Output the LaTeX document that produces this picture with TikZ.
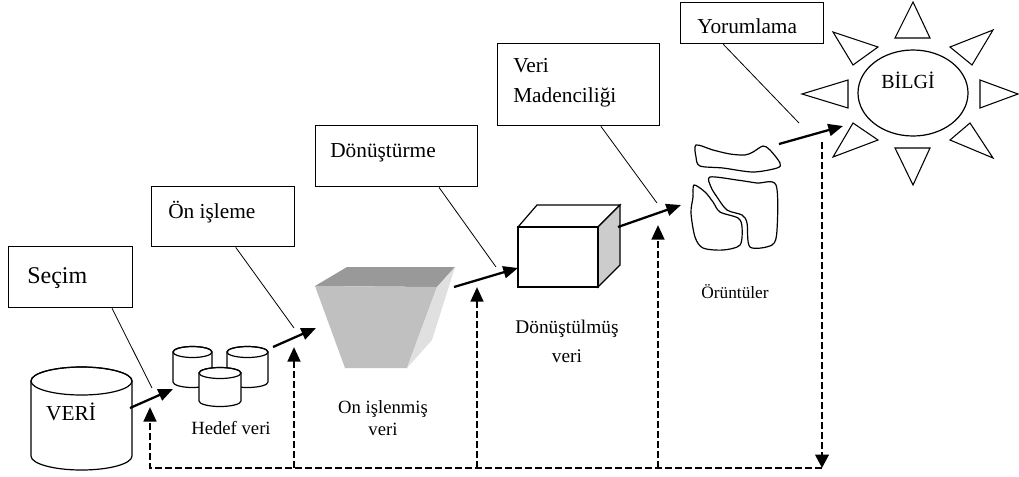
\documentclass[tikz,border=0pt]{standalone}
\usepackage{fontspec}
\setmainfont{Liberation Serif}
\usetikzlibrary{arrows.meta,calc}

\tikzset{
  labelbox/.style={draw, line width=1pt, inner sep=0pt, anchor=north west},
  boxtext/.style={anchor=base west, inner sep=0pt, font=\fontsize{16}{19}\selectfont},
  shapetext/.style={inner sep=0pt, font=\fontsize{14}{16.5}\selectfont},
  leader/.style={line width=0.6pt},
  flowarrow/.style={line width=1.7pt, -{Triangle[length=11pt,width=9pt]}},
  feedback/.style={line width=2pt, dash pattern=on 5pt off 2.5pt},
  outline/.style={line width=0.9pt}
}

\begin{document}
\begin{tikzpicture}[x=0.75pt,y=0.75pt,yscale=-1,xscale=1]
        \useasboundingbox (0,0) rectangle (1019,476);

        %Shape: Can [VERİ]
        \draw [outline, fill=white] (31,381) -- (31,456) arc[start angle=180, end angle=0, x radius=50.5, y radius=14] -- (132,381) arc[start angle=0, end angle=-180, x radius=50.5, y radius=14] -- cycle ;
        \draw [outline] (81.5,381) ellipse [x radius=50.5, y radius=14] ;
        %Shape: Can [hedef 1]
        \draw [outline, fill=white] (173,352) -- (173,382) arc[start angle=180, end angle=0, x radius=19.5, y radius=5.5] -- (212,352) arc[start angle=0, end angle=-180, x radius=19.5, y radius=5.5] -- cycle ;
        \draw [outline] (192.5,352) ellipse [x radius=19.5, y radius=5.5] ;
        %Shape: Can [hedef 2]
        \draw [outline, fill=white] (227,352) -- (227,382) arc[start angle=180, end angle=0, x radius=20.5, y radius=5.5] -- (268,352) arc[start angle=0, end angle=-180, x radius=20.5, y radius=5.5] -- cycle ;
        \draw [outline] (247.5,352) ellipse [x radius=20.5, y radius=5.5] ;
        %Shape: Can [hedef 3]
        \draw [outline, fill=white] (199,373) -- (199,401) arc[start angle=180, end angle=0, x radius=21, y radius=5.5] -- (241,373) arc[start angle=0, end angle=-180, x radius=21, y radius=5.5] -- cycle ;
        \draw [outline] (220,373) ellipse [x radius=21, y radius=5.5] ;

        %Shape: Funnel
        \fill [fill={rgb, 255:red, 153; green, 153; blue, 153 }] (347,267) -- (455,267) -- (437,287) -- (315,286) -- cycle ;
        \fill [fill={rgb, 255:red, 192; green, 192; blue, 192 }] (315,286) -- (437,287) -- (407,368) -- (345,368) -- cycle ;
        \fill [fill={rgb, 255:red, 224; green, 224; blue, 224 }] (437,287) -- (455,267) -- (432,340) -- (407,368) -- cycle ;

        %Shape: Cube
        \draw [outline, fill=white] (518,227) -- (537,205) -- (620,205) -- (598,227) -- cycle ;
        \draw [outline, fill={rgb, 255:red, 204; green, 204; blue, 204 }] (598,227) -- (620,205) -- (620,265) -- (598,287) -- cycle ;
        \draw [outline, fill=white] (518,227) rectangle (598,287) ;

        %Shape: Patterns
        \draw [outline] plot[smooth cycle, tension=0.5] coordinates {(696,145) (713,150) (730,154) (745,155) (753,152) (763,146) (770,150) (780,163) (777,168) (753,172) (723,168) (700,166) (696,157)} ;
        \draw [outline] plot[smooth cycle, tension=0.5] coordinates {(710,177) (737,180) (757,183) (776,185) (777,230) (772,245) (750,247) (747,223) (742,215) (727,210) (717,197) (711,187)} ;
        \draw [outline] plot[smooth cycle, tension=0.5] coordinates {(694,185) (705,192) (713,202) (720,212) (738,218) (742,227) (740,245) (723,250) (703,248) (695,237) (691,213) (693,197)} ;

        %Shape: Sun
        \draw [outline] (913,93) ellipse [x radius=55, y radius=43] ;
        \draw [line width=0.8pt] (913,2) -- (930,38) -- (895,38) -- cycle ;
        \draw [line width=0.8pt] (895,148) -- (930,148) -- (913,185) -- cycle ;
        \draw [line width=0.8pt] (802,94) -- (848,80) -- (848,108) -- cycle ;
        \draw [line width=0.8pt] (1018,94) -- (980,80) -- (980,108) -- cycle ;
        \draw [line width=0.8pt] (833,32) -- (878,47) -- (853,65) -- cycle ;
        \draw [line width=0.8pt] (993,30) -- (950,47) -- (972,65) -- cycle ;
        \draw [line width=0.8pt] (833,157) -- (853,123) -- (878,140) -- cycle ;
        \draw [line width=0.8pt] (993,158) -- (950,140) -- (970,123) -- cycle ;

        % Text Node
        \node [shapetext, anchor=base, font=\fontsize{16}{19}\selectfont] (veritext) at (71,420) {VERİ};
        \node [shapetext, anchor=base] (hedeftext) at (231,434) {Hedef veri};
        \node [shapetext, align=center] (huntext) at (383,418) {On işlenmiş\\veri};
        \node [shapetext, align=center, font=\fontsize{14.5}{21.75}\selectfont] (kuptext) at (567,341) {Dönüştülmüş\\veri};
        \node [shapetext, anchor=base, font=\fontsize{13}{15}\selectfont] (oruntutext) at (735,298) {Örüntüler};
        \node [shapetext, anchor=base, font=\fontsize{15}{18}\selectfont] (bilgitext) at (908,88) {BİLGİ};

        %Step boxes
        \node [labelbox, minimum width=93pt, minimum height=45.75pt] (secim) at (8,246) {};
        \node [labelbox, minimum width=107.25pt, minimum height=45pt] (onisleme) at (151,186) {};
        \node [labelbox, minimum width=121.5pt, minimum height=45.75pt] (donusturme) at (315,125) {};
        \node [labelbox, minimum width=121.5pt, minimum height=61.5pt] (madencilik) at (497,43) {};
        \node [labelbox, minimum width=107.25pt, minimum height=30.75pt] (yorumlama) at (680,2) {};
        % Text Node
        \node [boxtext, font=\fontsize{18}{21}\selectfont] (secimtext) at (27,283) {Seçim};
        \node [boxtext] (onislemetext) at (168,218) {Ön işleme};
        \node [boxtext] (donusturmetext) at (330,157) {Dönüştürme};
        \node [boxtext] (veritext2) at (513,72) {Veri};
        \node [boxtext] (madenciliktext) at (513,102) {Madenciliği};
        \node [boxtext] (yorumlamatext) at (697,33) {Yorumlama};

        %Arrow ends
        \coordinate (veriout) at (130,408);
        \coordinate (hedefin) at (173,389);
        \coordinate (hedefout) at (273,347);
        \coordinate (hunin) at (316,328);
        \coordinate (hunout) at (454,287);
        \coordinate (kupin) at (518,268);
        \coordinate (kupout) at (618,227);
        \coordinate (oruntuin) at (681,205);
        \coordinate (oruntuout) at (779,144);
        \coordinate (bilgiin) at (843,126);

        %Leader lines
        \draw [leader] ($(secim.south west)!0.83!(secim.south east)$) -- (152,388) coordinate (secimend);
        \draw [leader] ($(onisleme.south west)!0.587!(onisleme.south east)$) -- (294,328) coordinate (onislemeend);
        \draw [leader] ($(donusturme.south west)!0.759!(donusturme.south east)$) -- (496,267) coordinate (donusturmeend);
        \draw [leader] ($(madencilik.south west)!0.636!(madencilik.south east)$) -- (657,203) coordinate (madencilikend);
        \draw [leader] ($(yorumlama.south west)!0.3!(yorumlama.south east)$) -- (799,123) coordinate (yorumlamaend);

        %Flow arrows
        \draw [flowarrow] (veriout) -- (hedefin);
        \draw [flowarrow] (hedefout) -- (hunin);
        \draw [flowarrow] (hunout) -- (kupin);
        \draw [flowarrow] (kupout) -- (oruntuin);
        \draw [flowarrow] (oruntuout) -- (bilgiin);

        %Feedback loop
        \coordinate (fbtop) at (822,142);
        \coordinate (fbcorner) at (822,468);
        \coordinate (fbsecim) at (150,407);
        \coordinate (fbonisleme) at (294,347);
        \coordinate (fbdonusturme) at (477,287);
        \coordinate (fbmadencilik) at (658,225);
        \draw [feedback, -{Triangle[length=10pt,width=10pt]}] (fbtop) -- (fbcorner);
        \draw [feedback, -{Triangle[length=11pt,width=9.5pt]}] (fbcorner) -- (fbsecim |- fbcorner) -- (fbsecim);
        \draw [feedback, -{Triangle[length=11pt,width=9.5pt]}] (fbonisleme |- fbcorner) -- (fbonisleme);
        \draw [feedback, -{Triangle[length=11pt,width=9.5pt]}] (fbdonusturme |- fbcorner) -- (fbdonusturme);
        \draw [feedback, -{Triangle[length=11pt,width=9.5pt]}] (fbmadencilik |- fbcorner) -- (fbmadencilik);

\end{tikzpicture}
\end{document}
